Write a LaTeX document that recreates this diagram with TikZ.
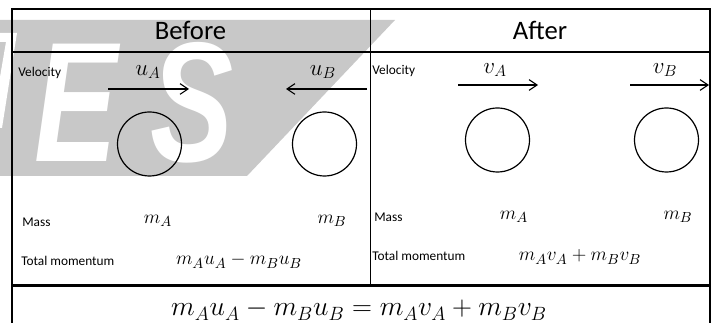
\documentclass[tikz,border=0pt]{standalone}
\usepackage{fontspec}
\setmainfont{Carlito}
\newfontfamily\wmfont{Liberation Sans}
\usepackage{graphicx}
\usetikzlibrary{arrows.meta}
\usepackage{xcolor}
\definecolor{WmGray}{HTML}{C8C8C8}

\begin{document}
\begin{tikzpicture}[x=0.75pt,y=-0.75pt,
  frm/.style={line width=1.5pt},
  sep/.style={line width=0.75pt},
  ttl/.style={font=\fontsize{20}{24}\selectfont},
  lbl/.style={anchor=west, inner sep=0pt, font=\fontsize{10}{12}\selectfont},
  vel/.style={inner sep=0pt, font=\fontsize{17}{20}\selectfont},
  mss/.style={inner sep=0pt, font=\fontsize{15}{18}\selectfont},
  eqn/.style={inner sep=0pt, font=\fontsize{21.3}{25}\selectfont},
  ball/.style={draw, circle, minimum size=48pt, inner sep=0pt, line width=0.9pt},
  mv/.style={-{Straight Barb[length=6pt,width=8pt]}, line width=0.8pt},
  wm/.style={text=white, inner sep=0pt, anchor=base west,
    font=\wmfont\bfseries\itshape\fontsize{128}{128}\selectfont}]
  \useasboundingbox (0,0) rectangle (713,323);
  \fill[WmGray] (0,20) -- (395,20) -- (247,176) -- (0,176) -- cycle;
  \fill[white] (0,33) -- (17,33) -- (2,128) -- (0,128) -- (0,77) -- (6,42) -- (0,42) -- cycle;
  \node[wm] (wmE) at (34,162) {\scalebox{0.73}[1]{E}};
  \node[wm] (wmS) at (150,162) {\scalebox{0.73}[1]{S}};

  \draw[frm] (11.3,9) -- (711,9);
  \draw[line width=1.3pt] (12,52) -- (710,52);
  \draw[line width=1.7pt] (12,285.5) -- (710,285.5);
  \draw[line width=1.3pt] (12,9) -- (12,323);
  \draw[frm] (710,9) -- (710,323);
  \draw[sep] (370.5,9) -- (370.5,285.5);

  \node[ttl] (before) at (190.5,30) {Before};
  \node[ttl] (after) at (540,30) {After};

  \node[lbl] (velA) at (18,73) {Velocity};
  \node[lbl] (velB) at (372,71) {Velocity};
  \node[lbl] (massA) at (22,222) {Mass};
  \node[lbl] (massB) at (374,217) {Mass};
  \node[lbl] (totA) at (21,261) {Total momentum};
  \node[lbl] (totB) at (372,256) {Total momentum};

  \node[vel] (uA) at (148,72) {$u_A$};
  \node[vel] (uB) at (323,72) {$u_B$};
  \node[vel] (vA) at (495,70) {$v_A$};
  \node[vel] (vB) at (665,70) {$v_B$};

  \coordinate (uAs) at (108,89);
  \coordinate (uAe) at (189,89);
  \coordinate (uBs) at (367,89);
  \coordinate (uBe) at (286,89);
  \coordinate (vAs) at (458,85);
  \coordinate (vAe) at (538,85);
  \coordinate (vBs) at (630,85);
  \coordinate (vBe) at (709,85);
  \draw[mv] (uAs) -- (uAe);
  \draw[mv] (uBs) -- (uBe);
  \draw[mv] (vAs) -- (vAe);
  \draw[mv] (vBs) -- (vBe);

  \node[ball] (ballA) at (149.5,144) {};
  \node[ball] (ballB) at (324.5,144) {};
  \node[ball] (ballC) at (497.5,140) {};
  \node[ball] (ballD) at (666.5,140) {};

  \node[mss] (mA) at (158,221) {$m_A$};
  \node[mss] (mB) at (332,221) {$m_B$};
  \node[mss] (mC) at (514,217) {$m_A$};
  \node[mss] (mD) at (678,217) {$m_B$};

  \node[mss] (pA) at (239,261) {$m_Au_A-m_Bu_B$};
  \node[mss] (pB) at (580,257) {$m_Av_A+m_Bv_B$};
  \node[eqn] (cons) at (359,310) {$m_Au_A-m_Bu_B=m_Av_A+m_Bv_B$};
\end{tikzpicture}
\end{document}
